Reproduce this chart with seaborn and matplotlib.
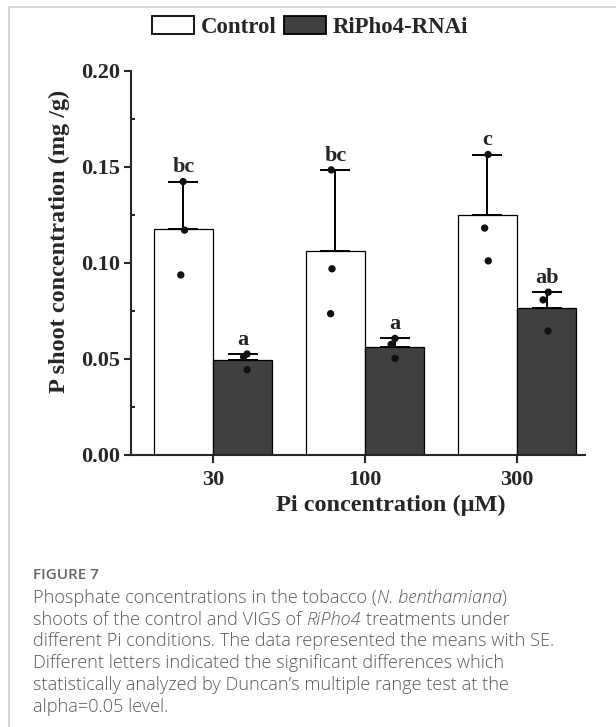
import numpy as np
import pandas as pd
import matplotlib
matplotlib.use("Agg")
import matplotlib.pyplot as plt
import seaborn as sns
from matplotlib.lines import Line2D
from matplotlib.patches import Patch
from matplotlib.ticker import MultipleLocator, FormatStrFormatter

# ---------------- data ----------------
pi_levels = ["30", "100", "300"]
groups = ["Control", "RiPho4-RNAi"]
control_means = [0.1179, 0.1064, 0.1252]
rnai_means = [0.0496, 0.0562, 0.0768]
control_err = [0.0245, 0.0421, 0.0313]
rnai_err = [0.0030, 0.0045, 0.0080]
control_points = [[0.1424, 0.1171, 0.0938],
                  [0.1485, 0.0970, 0.0736],
                  [0.1565, 0.1182, 0.1011]]
rnai_points = [[0.0512, 0.0526, 0.0444],
               [0.0607, 0.0576, 0.0503],
               [0.0848, 0.0808, 0.0646]]
control_letters = ["bc", "bc", "c"]
rnai_letters = ["a", "a", "ab"]
y_ticks = [0.00, 0.05, 0.10, 0.15, 0.20]
x_label = "Pi concentration (μM)"
y_label = "P shoot concentration (mg /g)"

caption_title = "FIGURE 7"
caption_lines = [
    [("Phosphate concentrations in the tobacco (", "normal"), ("N. benthamiana", "italic"), (")", "normal")],
    [("shoots of the control and VIGS of", "normal"), ("RiPho4", "italic"), ("treatments under", "normal")],
    [("different Pi conditions. The data represented the means with SE.", "normal")],
    [("Different letters indicated the significant differences which", "normal")],
    [("statistically analyzed by Duncan\u2019s multiple range test at the", "normal")],
    [("alpha=0.05 level.", "normal")],
]
# segments separated by a space in the caption
caption_space_after = [[False, False, False], [True, True, False], [False], [False], [False], [False]]

# ---------------- tables ----------------
summary = pd.DataFrame({
    "Pi": pi_levels * 2,
    "group": [groups[0]] * 3 + [groups[1]] * 3,
    "mean": control_means + rnai_means,
})
rows = []
for i, lvl in enumerate(pi_levels):
    for v in control_points[i]:
        rows.append((lvl, groups[0], v))
    for v in rnai_points[i]:
        rows.append((lvl, groups[1], v))
reps = pd.DataFrame(rows, columns=["Pi", "group", "P"])

# ---------------- style ----------------
sns.set_style("ticks")
plt.rcParams["font.family"] = ["Liberation Serif", "DejaVu Serif"]
plt.rcParams["font.weight"] = "bold"
plt.rcParams["axes.labelweight"] = "bold"

W, H = 616, 727
fig = plt.figure(figsize=(W / 100, H / 100), dpi=100)
ax_l, ax_r, ax_t, ax_b = 131, 585, 71, 455
ax = fig.add_axes([ax_l / W, 1 - ax_b / H, (ax_r - ax_l) / W, (ax_b - ax_t) / H])

fill = {"Control": "white", "RiPho4-RNAi": "#404040"}
sns.barplot(data=summary, x="Pi", y="mean", hue="group", order=pi_levels,
            hue_order=groups, palette=fill, saturation=1, edgecolor="black",
            linewidth=0.9, width=0.78, errorbar=None, legend=False, ax=ax, zorder=2)

# one-sided error bars on top of each bar
for cont, errs in zip(ax.containers[:2], [control_err, rnai_err]):
    xs = [p.get_x() + p.get_width() / 2 for p in cont]
    ys = [p.get_height() for p in cont]
    ax.errorbar(xs, ys, yerr=[np.zeros(len(errs)), errs], fmt="none",
                ecolor="black", elinewidth=1.4, capsize=11, capthick=1.4, zorder=3)

np.random.seed(3)
sns.stripplot(data=reps, x="Pi", y="P", hue="group", order=pi_levels,
              hue_order=groups, dodge=True, jitter=0.06,
              palette={"Control": "#111111", "RiPho4-RNAi": "#111111"},
              size=5.3, linewidth=0, legend=False, ax=ax, zorder=5)

# significance letters
for cont, errs, letters in zip(ax.containers[:2], [control_err, rnai_err],
                               [control_letters, rnai_letters]):
    for p, e, t in zip(cont, errs, letters):
        ax.annotate(t, (p.get_x() + p.get_width() / 2, p.get_height() + e),
                    xytext=(0, 3), textcoords="offset points", ha="center",
                    va="bottom", fontsize=16, fontweight="bold")

ax.set_xlim(-0.54, 2.447)
ax.set_ylim(0, 0.20)
ax.set_yticks(y_ticks)
ax.yaxis.set_major_formatter(FormatStrFormatter("%.2f"))
ax.yaxis.set_minor_locator(MultipleLocator(0.025))
for s in ["top", "right"]:
    ax.spines[s].set_visible(False)
for s in ["left", "bottom"]:
    ax.spines[s].set_linewidth(1.5)
ax.tick_params(axis="y", which="major", direction="out", length=5, width=1.5,
               labelsize=16, pad=3)
ax.tick_params(axis="y", which="minor", direction="in", length=3, width=1.5)
ax.tick_params(axis="x", which="major", direction="out", length=6, width=1.5,
               labelsize=16, pad=5)
for lab in ax.get_xticklabels() + ax.get_yticklabels():
    lab.set_fontweight("bold")

ax.set_xlabel(x_label, fontsize=17.5, fontweight="bold", va="center")
ax.set_ylabel(y_label, fontsize=17.5, fontweight="bold", va="center")
ax.xaxis.set_label_coords((390.5 - ax_l) / (ax_r - ax_l), (ax_b - 505) / (ax_b - ax_t))
ax.yaxis.set_label_coords((59 - ax_l) / (ax_r - ax_l), (ax_b - 241) / (ax_b - ax_t))

handles = [Patch(facecolor=fill[g], edgecolor="black", linewidth=1.3) for g in groups]
fig.legend(handles, groups, loc="center", bbox_to_anchor=(310 / W, 1 - 27 / H),
           ncol=2, frameon=False, handlelength=1.85,
           handleheight=0.85, handletextpad=0.3, columnspacing=0.3,
           borderpad=0, borderaxespad=0, prop={"weight": "bold", "size": 16.5})

# ---------------- frame lines of the figure panel ----------------
fig.add_artist(Line2D([9 / W, 9 / W], [1 - 7 / H, 0],
                      transform=fig.transFigure, color="#c8c8c8", lw=1.1))
fig.add_artist(Line2D([9 / W, 1], [1 - 7 / H, 1 - 7 / H],
                      transform=fig.transFigure, color="#c8c8c8", lw=1.1))

# ---------------- caption ----------------
cap_font = ["Open Sans", "DejaVu Sans"]
cap_size = 13.1
cap_weight = "light"
fig.text(33 / W, 1 - 575 / H, caption_title, family=cap_font, weight="semibold",
         size=11, color="#666666", ha="left", va="center")
fig.canvas.draw()
renderer = fig.canvas.get_renderer()


def text_width(s, style):
    t = fig.text(0, 0, s, family=cap_font, size=cap_size, style=style, weight=cap_weight)
    w = t.get_window_extent(renderer).width
    t.remove()
    return w


space_w = text_width("a a", "normal") - text_width("aa", "normal")
y0, dy = 598, 21.7
for i, (segs, spaces) in enumerate(zip(caption_lines, caption_space_after)):
    x = 33.0
    y = 1 - (y0 + i * dy) / H
    for (s, style), sp in zip(segs, spaces):
        t = fig.text(x / W, y, s, family=cap_font, size=cap_size, style=style,
                     weight=cap_weight, color="#5a5a5a", ha="left", va="center")
        x += t.get_window_extent(renderer).width + (space_w if sp else 0)

fig.savefig("out.png", dpi=100)
